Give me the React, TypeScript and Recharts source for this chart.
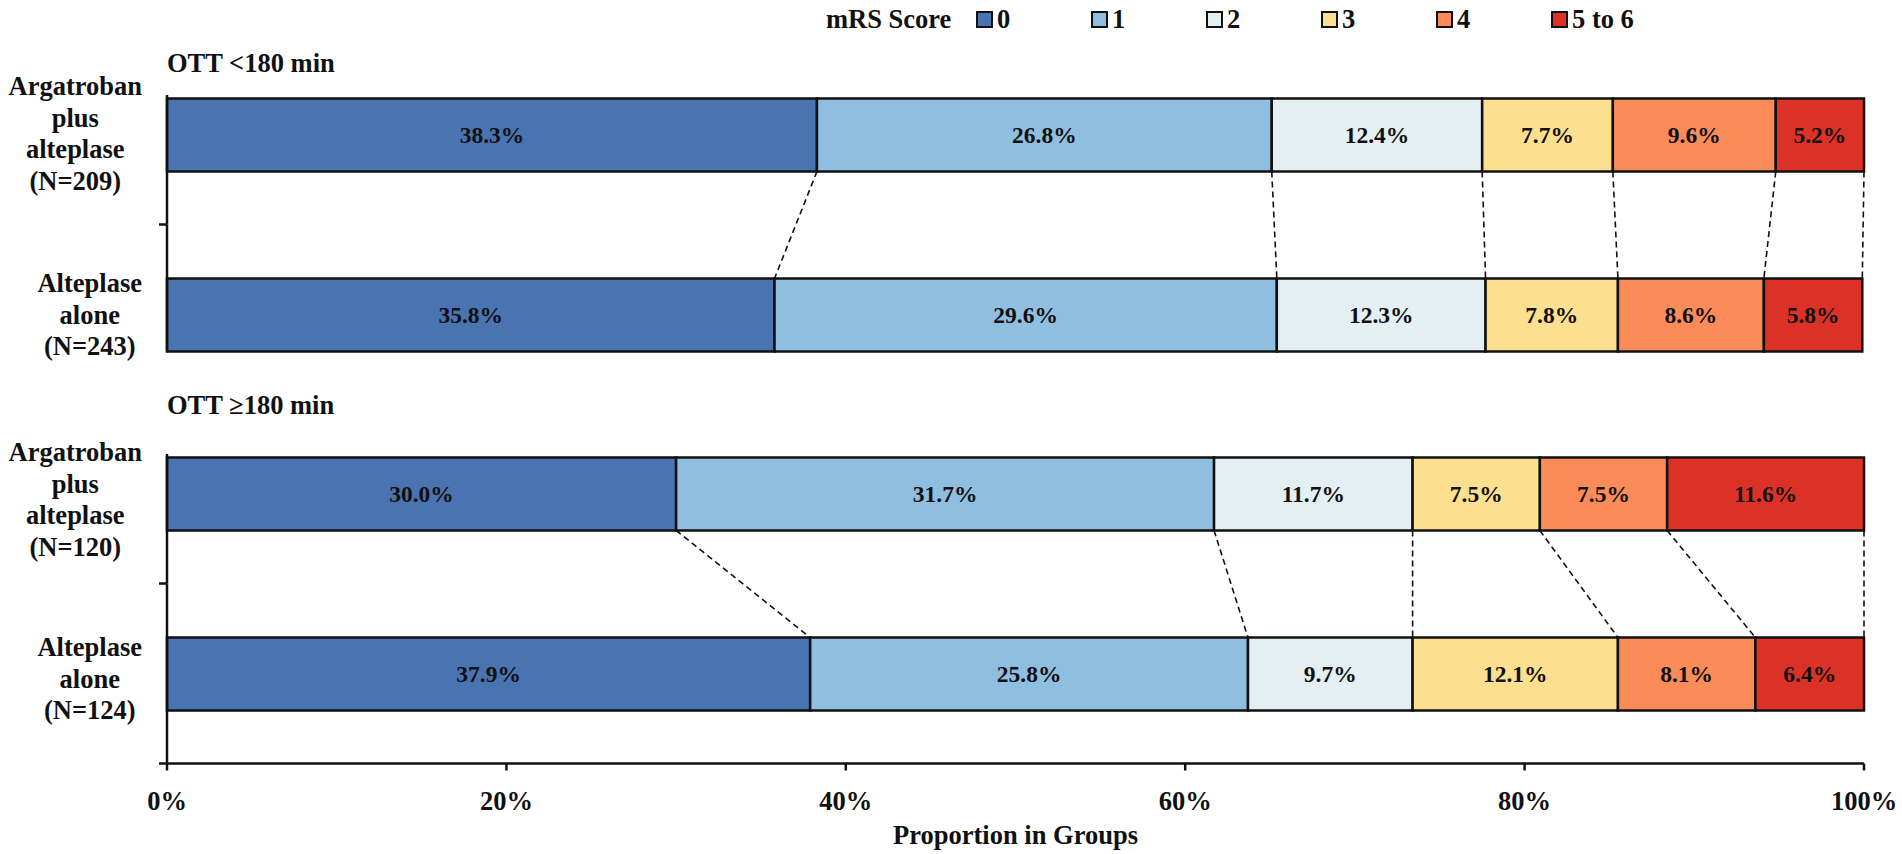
import React from 'react';
import { BarChart, Bar, XAxis, YAxis, Legend, LabelList } from 'recharts';

// ---------- data ----------
const scoreKeys = ['s0', 's1', 's2', 's3', 's4', 's56'];
const scoreNames = ['0', '1', '2', '3', '4', '5 to 6'];
const scoreColors = ['#4a73b1', '#90bee0', '#e4eff3', '#fddf90', '#fb8c59', '#dc3127'];

const earlyTitle = 'OTT <180 min';
const lateTitle = 'OTT \u2265180 min';

const earlyGroups = ['Argatroban plus alteplase (N=209)', 'Alteplase alone (N=243)'];
const earlyGroupLines = [['Argatroban', 'plus', 'alteplase', '(N=209)'], ['Alteplase', 'alone', '(N=243)']];
const earlyArgatroban = [38.3, 26.8, 12.4, 7.7, 9.6, 5.2];
const earlyAlteplase = [35.8, 29.6, 12.3, 7.8, 8.6, 5.8];

const lateGroups = ['Argatroban plus alteplase (N=120)', 'Alteplase alone (N=124)'];
const lateGroupLines = [['Argatroban', 'plus', 'alteplase', '(N=120)'], ['Alteplase', 'alone', '(N=124)']];
const lateArgatroban = [30.0, 31.7, 11.7, 7.5, 7.5, 11.6];
const lateAlteplase = [37.9, 25.8, 9.7, 12.1, 8.1, 6.4];

const xTicks = [0, 20, 40, 60, 80, 100];
const legendTitle = 'mRS Score';
const xAxisTitle = 'Proportion in Groups';

// ---------- layout / style ----------
const FONT = '"Liberation Serif", "Times New Roman", serif';
const W = 1902;
const AXIS_X = 167;
const RIGHT = 38;
const BAND = 180;
const BAR_SIZE = 73;
const GAP = BAND - BAR_SIZE;
const LABEL_SIZE = 26.5;
const LINE_H = 31.5;
const earlyLabelShift = [-1, 0];
const lateLabelShift = [6, 5];

let measureCtx: CanvasRenderingContext2D | null = null;
function textWidth(s: string, font: string) {
  if (!measureCtx) measureCtx = document.createElement('canvas').getContext('2d');
  if (!measureCtx) return s.length * 12;
  measureCtx.font = font;
  return measureCtx.measureText(s).width;
}

function buildRows(groups: string[], values: number[][]) {
  return groups.map((g, i) => {
    const row: Record<string, any> = { group: g };
    scoreKeys.forEach((k, j) => {
      row[k] = values[i][j];
    });
    return row;
  });
}

const sum = (a: number[]) => a.reduce((s, v) => s + v, 0);

function makeSegmentShape(k: number, values: number[][]) {
  return (props: any) => {
    const { x, y, width, height, index, fill } = props;
    const row = values[index] || values[0];
    const px = width / row[k];
    const plotLeft = x - px * sum(row.slice(0, k));
    let connector = null;
    if (index === 0 && values[1]) {
      const x2 = plotLeft + px * sum(values[1].slice(0, k + 1));
      connector = (
        <line
          x1={x + width}
          y1={y + height}
          x2={x2}
          y2={y + height + GAP}
          stroke="#111"
          strokeWidth={1.6}
          strokeDasharray="6 4"
        />
      );
    }
    return (
      <g>
        <rect x={x} y={y} width={width} height={height} fill={fill} stroke="#111" strokeWidth={2.5} />
        {connector}
      </g>
    );
  };
}

function makeYTick(groups: string[], lines: string[][], shifts: number[], isBottom: boolean) {
  return (props: any) => {
    const { y, payload } = props;
    let idx = groups.indexOf(payload.value);
    if (idx < 0) idx = payload.index ?? 0;
    const ls = lines[idx];
    const font = `bold ${LABEL_SIZE}px ${FONT}`;
    const maxW = Math.max(...ls.map((l) => textWidth(l, font)));
    const cx = AXIS_X - 25 - maxW / 2;
    const firstY = y + shifts[idx] - ((ls.length - 1) / 2) * LINE_H + 9;
    const half = BAND / 2;
    const barHalf = BAR_SIZE / 2;
    const top = idx === 0 ? y - barHalf - 3 : y - half;
    const bottom = idx === 0 ? y + half : isBottom ? y + half : y + barHalf;
    const showTick = idx === 0 || isBottom;
    return (
      <g>
        <line x1={AXIS_X} x2={AXIS_X} y1={top} y2={bottom} stroke="#111" strokeWidth={2.5} />
        {showTick && <line x1={AXIS_X - 8} x2={AXIS_X} y1={y + half} y2={y + half} stroke="#111" strokeWidth={2.5} />}
        <text textAnchor="middle" fontFamily={FONT} fontWeight="bold" fontSize={LABEL_SIZE} fill="#111">
          {ls.map((l, i) => (
            <tspan key={i} x={cx} y={firstY + i * LINE_H}>
              {l}
            </tspan>
          ))}
        </text>
      </g>
    );
  };
}

const renderLegend = (props: any) => {
  const items = props.payload || [];
  return (
    <div
      style={{
        display: 'flex',
        alignItems: 'center',
        fontFamily: FONT,
        fontWeight: 'bold',
        fontSize: 26.5,
        color: '#111',
        whiteSpace: 'nowrap',
        lineHeight: '30px',
      }}
    >
      <span style={{ display: 'inline-block', width: 150 }}>{legendTitle}</span>
      {items.map((it: any, i: number) => (
        <span
          key={i}
          style={{ display: 'flex', alignItems: 'center', width: i < items.length - 1 ? 115 : 'auto' }}
        >
          <span
            style={{
              display: 'inline-block',
              width: 17,
              height: 17,
              background: it.color,
              border: '2px solid #111',
              boxSizing: 'border-box',
              marginRight: 4,
            }}
          />
          {it.value}
        </span>
      ))}
    </div>
  );
};

function renderBars(values: number[][]) {
  return scoreKeys.map((k, j) => (
    <Bar
      key={k}
      dataKey={k}
      name={scoreNames[j]}
      stackId="a"
      fill={scoreColors[j]}
      barSize={BAR_SIZE}
      isAnimationActive={false}
      shape={makeSegmentShape(j, values)}
    >
      <LabelList
        dataKey={k}
        position="center"
        formatter={(v: any) => `${Number(v).toFixed(1)}%`}
        fill="#111"
        fontSize={23.5}
        fontWeight="bold"
        fontFamily={FONT}
      />
    </Bar>
  ));
}

const titleStyle: React.CSSProperties = {
  position: 'absolute',
  left: AXIS_X,
  fontFamily: FONT,
  fontWeight: 'bold',
  fontSize: 26.5,
  color: '#111',
  lineHeight: '30px',
  whiteSpace: 'nowrap',
};

export default function App() {
  const earlyValues = [earlyArgatroban, earlyAlteplase];
  const lateValues = [lateArgatroban, lateAlteplase];
  const earlyRows = buildRows(earlyGroups, earlyValues);
  const lateRows = buildRows(lateGroups, lateValues);

  const topH = 405;
  const bottomTop = 400;
  const bottomH = 454;

  return (
    <div style={{ position: 'absolute', left: 0, top: 0, width: W, height: 854, background: '#fff', fontFamily: FONT }}>
      <div style={{ position: 'absolute', left: 0, top: 0 }}>
        <BarChart
          width={W}
          height={topH}
          data={earlyRows}
          layout="vertical"
          margin={{ top: 44.5, right: RIGHT, bottom: 0.5, left: 0 }}
          barCategoryGap={0}
        >
          <XAxis type="number" domain={[0, 100]} hide />
          <YAxis
            type="category"
            dataKey="group"
            width={AXIS_X}
            axisLine={false}
            tickLine={false}
            interval={0}
            tick={makeYTick(earlyGroups, earlyGroupLines, earlyLabelShift, false)}
          />
          <Legend
            layout="horizontal"
            align="center"
            verticalAlign="middle"
            content={renderLegend}
            wrapperStyle={{ top: 4, left: 826, width: 900, height: 30 }}
          />
          {renderBars(earlyValues)}
        </BarChart>
      </div>
      <div style={{ position: 'absolute', left: 0, top: bottomTop }}>
        <BarChart
          width={W}
          height={bottomH}
          data={lateRows}
          layout="vertical"
          margin={{ top: 3.5, right: RIGHT, bottom: 0, left: 0 }}
          barCategoryGap={0}
        >
          <XAxis
            type="number"
            domain={[0, 100]}
            ticks={xTicks}
            interval={0}
            height={90.5}
            tickFormatter={(v: any) => `${v}%`}
            axisLine={{ stroke: '#111', strokeWidth: 2.5 }}
            tickLine={{ stroke: '#111', strokeWidth: 2.5 }}
            tickSize={7}
            tickMargin={21}
            tick={{ fill: '#111', fontSize: 26.5, fontWeight: 'bold', fontFamily: FONT }}
            label={{
              value: xAxisTitle,
              position: 'insideBottom',
              offset: 10,
              fill: '#111',
              fontSize: 26.5,
              fontWeight: 'bold',
              fontFamily: FONT,
            }}
          />
          <YAxis
            type="category"
            dataKey="group"
            width={AXIS_X}
            axisLine={false}
            tickLine={false}
            interval={0}
            tick={makeYTick(lateGroups, lateGroupLines, lateLabelShift, true)}
          />
          {renderBars(lateValues)}
        </BarChart>
      </div>
      <div style={{ ...titleStyle, top: 48 }}>{earlyTitle}</div>
      <div style={{ ...titleStyle, top: 390 }}>{lateTitle}</div>
    </div>
  );
}
